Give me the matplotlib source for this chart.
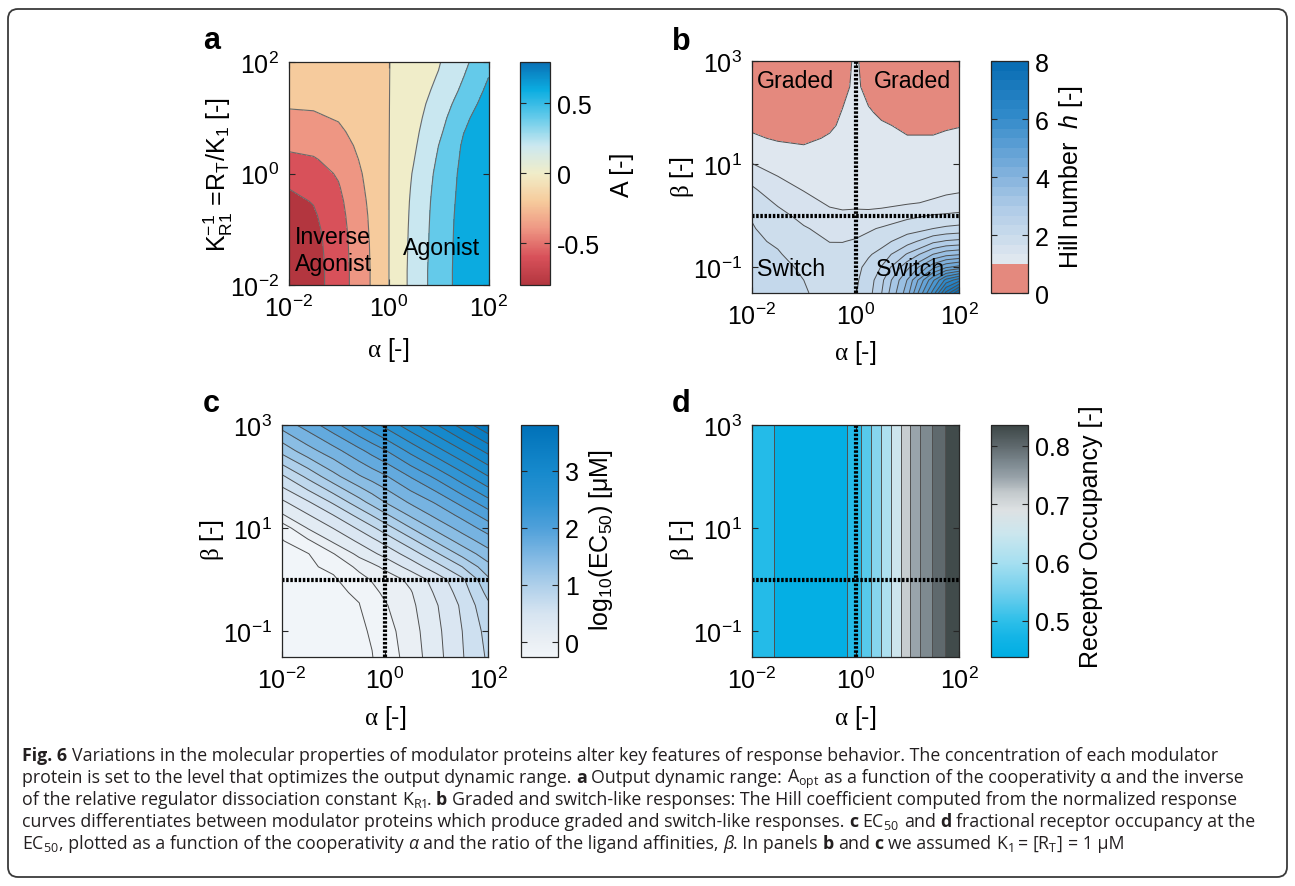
import numpy as np
import matplotlib
matplotlib.use("Agg")
import matplotlib.pyplot as plt
from matplotlib.colors import LinearSegmentedColormap, ListedColormap, Normalize
from matplotlib.ticker import FixedLocator, FuncFormatter
from matplotlib.patches import FancyBboxPatch
from matplotlib.transforms import IdentityTransform
import matplotlib.cm as cm

plt.rcParams['font.family'] = ['Liberation Sans', 'DejaVu Sans']
plt.rcParams['mathtext.fontset'] = 'custom'
plt.rcParams['mathtext.rm'] = 'Liberation Serif'
plt.rcParams['mathtext.it'] = 'Liberation Sans:italic'
plt.rcParams['mathtext.bf'] = 'Liberation Sans:bold'
plt.rcParams['mathtext.sf'] = 'Liberation Sans'
plt.rcParams['axes.unicode_minus'] = False
plt.rcParams['contour.negative_linestyle'] = 'solid'

# ======================= DATA =======================
# ---- panel a : output dynamic range A(alpha, K_R1^-1) ----
a_log_alpha = [-2.0, -1.5, -1.0, -0.5, 0.0, 0.5, 1.0, 1.5, 2.0]
a_log_K = [-2.0, -1.75, -1.5, -1.25, -1.0, -0.75, -0.5, -0.25, 0.0,
           0.25, 0.5, 0.75, 1.0, 1.25, 1.5, 1.75, 2.0]
a_A = [
    [-0.80, -0.68, -0.50, -0.27, -0.005, 0.27, 0.50, 0.68, 0.80],
    [-0.795, -0.68, -0.50, -0.27, -0.005, 0.27, 0.50, 0.68, 0.80],
    [-0.79, -0.675, -0.495, -0.265, -0.005, 0.265, 0.495, 0.68, 0.795],
    [-0.775, -0.665, -0.49, -0.26, -0.005, 0.26, 0.49, 0.678, 0.79],
    [-0.75, -0.65, -0.48, -0.25, -0.005, 0.255, 0.487, 0.675, 0.785],
    [-0.71, -0.625, -0.465, -0.24, -0.005, 0.248, 0.482, 0.67, 0.78],
    [-0.65, -0.59, -0.445, -0.225, -0.005, 0.24, 0.475, 0.662, 0.775],
    [-0.595, -0.54, -0.415, -0.207, -0.005, 0.228, 0.463, 0.656, 0.768],
    [-0.53, -0.48, -0.38, -0.19, -0.005, 0.214, 0.449, 0.65, 0.76],
    [-0.44, -0.415, -0.34, -0.165, -0.005, 0.192, 0.425, 0.638, 0.75],
    [-0.37, -0.35, -0.29, -0.14, -0.005, 0.17, 0.40, 0.625, 0.74],
    [-0.30, -0.29, -0.235, -0.115, -0.005, 0.152, 0.36, 0.595, 0.725],
    [-0.235, -0.225, -0.185, -0.095, -0.005, 0.135, 0.32, 0.56, 0.71],
    [-0.18, -0.175, -0.145, -0.075, -0.005, 0.122, 0.28, 0.50, 0.68],
    [-0.14, -0.135, -0.11, -0.06, -0.005, 0.11, 0.24, 0.44, 0.64],
    [-0.11, -0.10, -0.085, -0.045, -0.005, 0.10, 0.21, 0.395, 0.595],
    [-0.08, -0.075, -0.065, -0.035, -0.005, 0.09, 0.185, 0.355, 0.55],
]
a_levels = [-0.6, -0.4, -0.2, 0.0, 0.2, 0.4, 0.6]
a_range = [-0.80, 0.793]
a_cbar_ticks = [-0.5, 0.0, 0.5]
a_cbar_ticklabels = ['-0.5', '0', '0.5']

# ---- panel b : Hill number h(alpha, beta) ----
b_log_alpha = [-2.0, -1.5, -1.0, -0.5, -0.25, 0.0, 0.25, 0.5, 1.0, 1.5, 1.75, 2.0]
b_log_beta = [-1.5, -1.25, -1.0, -0.75, -0.5, -0.25, 0.0, 0.25, 0.5,
              0.75, 1.0, 1.25, 1.5, 1.75, 2.0, 2.5, 3.0]
b_h = [
    [2.15, 2.12, 2.02, 1.92, 1.90, 1.98, 2.20, 2.65, 3.85, 5.80, 7.10, 8.00],
    [2.15, 2.10, 2.00, 1.89, 1.87, 1.95, 2.15, 2.57, 3.68, 5.27, 6.11, 6.52],
    [2.12, 2.07, 1.96, 1.83, 1.82, 1.90, 2.10, 2.35, 3.24, 4.24, 4.62, 4.79],
    [2.08, 2.02, 1.90, 1.76, 1.75, 1.80, 1.96, 2.11, 2.70, 3.34, 3.55, 3.63],
    [2.04, 1.97, 1.80, 1.66, 1.66, 1.69, 1.78, 1.88, 2.19, 2.59, 2.71, 2.76],
    [2.02, 1.88, 1.70, 1.55, 1.55, 1.58, 1.62, 1.70, 1.85, 2.00, 2.06, 2.10],
    [1.98, 1.78, 1.56, 1.42, 1.40, 1.42, 1.40, 1.42, 1.59, 1.69, 1.71, 1.73],
    [1.88, 1.62, 1.45, 1.29, 1.25, 1.25, 1.26, 1.27, 1.30, 1.37, 1.43, 1.48],
    [1.72, 1.47, 1.32, 1.19, 1.17, 1.17, 1.18, 1.18, 1.20, 1.25, 1.27, 1.29],
    [1.55, 1.34, 1.20, 1.13, 1.12, 1.12, 1.13, 1.12, 1.13, 1.16, 1.18, 1.20],
    [1.34, 1.22, 1.12, 1.09, 1.09, 1.09, 1.10, 1.08, 1.09, 1.11, 1.12, 1.14],
    [1.20, 1.10, 1.04, 1.06, 1.07, 1.07, 1.08, 1.06, 1.06, 1.07, 1.08, 1.10],
    [1.04, 0.97, 0.96, 1.02, 1.05, 1.06, 1.06, 1.04, 1.01, 1.01, 1.03, 1.05],
    [0.95, 0.92, 0.92, 0.97, 1.03, 1.05, 1.04, 1.02, 0.97, 0.97, 0.98, 0.99],
    [0.90, 0.88, 0.88, 0.93, 1.01, 1.05, 1.02, 0.97, 0.93, 0.93, 0.93, 0.92],
    [0.85, 0.84, 0.84, 0.88, 0.95, 1.04, 0.94, 0.90, 0.88, 0.88, 0.88, 0.86],
    [0.82, 0.81, 0.81, 0.84, 0.90, 1.04, 0.88, 0.87, 0.85, 0.85, 0.85, 0.83],
]
b_range = [0.0, 8.0]
b_nbands = 24
b_cbar_ticks = [0, 2, 4, 6, 8]

# ---- panel c : log10(EC50) ----
c_log_alpha = [-2.0, -1.5, -1.0, -0.5, -0.25, 0.0, 0.5, 1.0, 1.5, 2.0]
c_log_beta = [-1.5, -1.0, -0.5, -0.25, 0.0, 0.25, 0.5, 0.75, 1.0, 1.25, 1.5, 2.0, 2.5, 3.0]
c_ec50 = [
    [-0.24, -0.24, -0.238, -0.23, -0.205, -0.12, 0.09, 0.33, 0.585, 0.83],
    [-0.24, -0.24, -0.237, -0.225, -0.185, -0.085, 0.115, 0.35, 0.60, 0.87],
    [-0.24, -0.238, -0.233, -0.205, -0.11, -0.02, 0.155, 0.385, 0.635, 0.96],
    [-0.238, -0.235, -0.228, -0.18, -0.052, 0.036, 0.185, 0.435, 0.69, 1.06],
    [-0.235, -0.228, -0.225, -0.074, 0.014, 0.086, 0.248, 0.49, 0.76, 1.16],
    [-0.232, -0.228, -0.16, 0.052, 0.144, 0.247, 0.479, 0.723, 1.0, 1.33],
    [-0.228, -0.21, -0.008, 0.257, 0.357, 0.462, 0.695, 0.97, 1.262, 1.517],
    [-0.215, -0.038, 0.234, 0.435, 0.544, 0.664, 0.935, 1.229, 1.488, 1.70],
    [-0.12, 0.21, 0.406, 0.632, 0.761, 0.90, 1.195, 1.458, 1.677, 1.887],
    [0.179, 0.383, 0.60, 0.865, 1.008, 1.158, 1.429, 1.653, 1.857, 2.096],
    [0.359, 0.573, 0.83, 1.121, 1.264, 1.40, 1.63, 1.826, 2.068, 2.32],
    [0.764, 1.047, 1.333, 1.579, 1.678, 1.773, 2.012, 2.25, 2.517, 2.79],
    [1.267, 1.52, 1.727, 1.952, 2.07, 2.184, 2.457, 2.72, 2.986, 3.26],
    [1.68, 1.89, 2.13, 2.395, 2.52, 2.65, 2.92, 3.19, 3.48, 3.77],
]
c_levels = [-0.2, 0.0, 0.2, 0.4, 0.6, 0.8, 1.0, 1.2, 1.4, 1.6, 1.8, 2.0,
            2.2, 2.4, 2.6, 2.8, 3.0, 3.2, 3.4, 3.6]
c_range = [-0.26, 3.80]
c_cbar_ticks = [0, 1, 2, 3]

# ---- panel d : receptor occupancy at EC50 (bands along alpha) ----
d_log_alpha_edges = [-2.0, -1.58, -0.17, 0.11, 0.30, 0.50, 0.69, 0.875,
                     1.06, 1.25, 1.47, 1.73, 2.0]
d_occupancy = [0.49, 0.445, 0.49, 0.53, 0.57, 0.61, 0.655, 0.715,
               0.745, 0.77, 0.80, 0.83]
d_log_beta_range = [-1.5, 3.0]
d_range = [0.438, 0.836]
d_cbar_ticks = [0.5, 0.6, 0.7, 0.8]

# ======================= STYLE =======================
W, H = 1295, 887
fig = plt.figure(figsize=(W / 100, H / 100), dpi=100)
FS = 18
LINEC = '#505050'
SPINEC = '#262626'

cmap_a = LinearSegmentedColormap.from_list('a', [
    (0.0, '#b3363f'), (0.125, '#d8515a'), (0.25, '#ee9683'), (0.375, '#f6cb9c'),
    (0.5, '#f1edc8'), (0.625, '#cbe8f0'), (0.75, '#66cbea'), (0.875, '#0badE1'),
    (1.0, '#0a70b5')])
blues_b = LinearSegmentedColormap.from_list('bb', [
    (0.0, '#dfe7ef'), (0.25, '#b2cde8'), (0.5, '#72a9d9'), (0.75, '#2f89c9'), (1.0, '#0a6eb4')])
cmap_b = ListedColormap(['#e4897e'] * 3 + [blues_b(i / 20) for i in range(21)])
c_lo, c_hi = c_range
def _cn(v):
    return (v - c_lo) / (c_hi - c_lo)
cmap_c = LinearSegmentedColormap.from_list('c', [
    (0.0, '#f1f5f9'), (_cn(0.0), '#eaeff4'), (_cn(0.5), '#d6e4f1'), (_cn(1.0), '#aecfea'),
    (_cn(1.5), '#80b8e3'), (_cn(2.0), '#4fa0da'), (_cn(2.5), '#2a92d2'), (_cn(3.0), '#1689cc'),
    (1.0, '#0071b8')])
d_lo, d_hi = d_range
def _dn(v):
    return (v - d_lo) / (d_hi - d_lo)
cmap_d = LinearSegmentedColormap.from_list('d', [
    (0.0, '#00aee3'), (_dn(0.47), '#12b4e6'), (_dn(0.50), '#2ebfe9'), (_dn(0.55), '#72cfed'),
    (_dn(0.60), '#a6dff0'), (_dn(0.65), '#cbe6ee'), (_dn(0.69), '#dde1e3'), (_dn(0.72), '#c4cacd'),
    (_dn(0.745), '#9aa4ab'), (_dn(0.77), '#7e8a91'), (_dn(0.80), '#5f696d'), (1.0, '#3c4646')])


def add_ax(x0, y0, x1, y1):
    return fig.add_axes([x0 / W, 1 - y1 / H, (x1 - x0) / W, (y1 - y0) / H])


def ftext(x, y, s, **kw):
    return fig.text(x / W, 1 - y / H, s, **kw)


def pow10(v, pos):
    return r"$\mathregular{10^{%d}}$" % int(round(v))


def style_ax(ax, xt, yt, xlim, ylim):
    ax.set_xlim(*xlim)
    ax.set_ylim(*ylim)
    ax.xaxis.set_major_locator(FixedLocator(xt))
    ax.yaxis.set_major_locator(FixedLocator(yt))
    ax.xaxis.set_major_formatter(FuncFormatter(pow10))
    ax.yaxis.set_major_formatter(FuncFormatter(pow10))
    ax.tick_params(direction='in', length=4, width=0.8, top=True, right=True,
                   labelsize=FS, pad=7, color=SPINEC)
    for sp in ax.spines.values():
        sp.set_color(SPINEC)
        sp.set_linewidth(0.9)
        sp.set_zorder(5)


def style_cbar(cb, ticks, labels=None):
    cb.set_ticks(ticks)
    if labels is not None:
        cb.set_ticklabels(labels)
    cb.ax.minorticks_off()
    cb.ax.tick_params(axis='y', direction='in', left=True, right=True, length=4,
                      width=0.8, labelsize=FS, pad=5, color=SPINEC)
    cb.outline.set_edgecolor(SPINEC)
    cb.outline.set_linewidth(0.9)


def crosshair(ax):
    ax.axvline(0, color='black', lw=3.0, linestyle=(0, (0.6, 0.4)), zorder=4)
    ax.axhline(0, color='black', lw=3.0, linestyle=(0, (0.6, 0.4)), zorder=4)


# ======================= PANEL a =======================
ax = add_ax(288.5, 63, 488.5, 286)
A = np.array(a_A)
norm_a = Normalize(*a_range)
fill_lv = [-0.85] + a_levels + [0.85]
fill_cols = [cmap_a(norm_a(max(l, a_range[0]))) for l in fill_lv[:-1]]
ax.contourf(a_log_alpha, a_log_K, A, levels=fill_lv, colors=fill_cols)
ax.contour(a_log_alpha, a_log_K, A, levels=a_levels, colors='#6a6a6a', linewidths=0.8,
           linestyles='solid')
style_ax(ax, [-2, 0, 2], [-2, 0, 2], (-2, 2), (-2, 2))
cax = add_ax(520, 63, 550, 286)
cb = fig.colorbar(cm.ScalarMappable(norm=norm_a, cmap=cmap_a), cax=cax)
style_cbar(cb, a_cbar_ticks, a_cbar_ticklabels)

ftext(295, 238, 'Inverse', fontsize=16.7, va='center', ha='left')
ftext(295, 265, 'Agonist', fontsize=16.7, va='center', ha='left')
ftext(442, 249, 'Agonist', fontsize=16.7, va='center', ha='center')
ftext(388, 350, r"$\mathrm{\alpha}$ [-]", fontsize=FS, ha='center', va='center')
ftext(218, 175, r"K$^{\mathregular{-1}}_{\mathregular{R1}}$ =R$_{\mathregular{T}}$/K$_{\mathregular{1}}$ [-]",
      fontsize=FS, ha='center', va='center', rotation=90)
ftext(622, 175, 'A [-]', fontsize=FS, ha='center', va='center', rotation=90)

# ======================= PANEL b =======================
ax = add_ax(752, 62, 959, 294)
Hh = np.array(b_h)
norm_b = Normalize(*b_range)
b_edges = np.linspace(b_range[0], b_range[1], b_nbands + 1)
ax.contourf(b_log_alpha, b_log_beta, Hh, levels=b_edges, cmap=cmap_b, norm=norm_b)
ax.contour(b_log_alpha, b_log_beta, Hh, levels=b_edges[1:-1], colors=LINEC, linewidths=0.7,
           linestyles='solid')
crosshair(ax)
style_ax(ax, [-2, 0, 2], [-1, 1, 3], (-2, 2), (-1.5, 3))
cax = add_ax(991, 62, 1028, 294)
cb = fig.colorbar(cm.ScalarMappable(norm=norm_b, cmap=cmap_b), cax=cax)
style_cbar(cb, b_cbar_ticks)

ftext(795, 82, 'Graded', fontsize=16.7, va='center', ha='center')
ftext(912, 82, 'Graded', fontsize=16.7, va='center', ha='center')
ftext(791, 269, 'Switch', fontsize=16.7, va='center', ha='center')
ftext(910, 269, 'Switch', fontsize=16.7, va='center', ha='center')
ftext(855, 353, r"$\mathrm{\alpha}$ [-]", fontsize=FS, ha='center', va='center')
ftext(682, 177, r"$\mathrm{\beta}$ [-]", fontsize=FS, ha='center', va='center', rotation=90)
ftext(1071, 177, r"Hill number  $\mathit{h}$ [-]", fontsize=FS, ha='center', va='center', rotation=90)

# ======================= PANEL c =======================
ax = add_ax(282, 426, 488, 658)
C = np.array(c_ec50)
norm_c = Normalize(*c_range)
fill_lv = [-0.3] + c_levels + [3.9]
fill_cols = [cmap_c(norm_c(max(l, c_range[0]))) for l in fill_lv[:-1]]
ax.contourf(c_log_alpha, c_log_beta, C, levels=fill_lv, colors=fill_cols)
ax.contour(c_log_alpha, c_log_beta, C, levels=c_levels, colors=LINEC, linewidths=0.7,
           linestyles='solid')
crosshair(ax)
style_ax(ax, [-2, 0, 2], [-1, 1, 3], (-2, 2), (-1.5, 3))
cax = add_ax(521, 426, 558, 658)
cb = fig.colorbar(cm.ScalarMappable(norm=norm_c, cmap=cmap_c), cax=cax)
style_cbar(cb, c_cbar_ticks)

ftext(385, 718, r"$\mathrm{\alpha}$ [-]", fontsize=FS, ha='center', va='center')
ftext(212, 540, r"$\mathrm{\beta}$ [-]", fontsize=FS, ha='center', va='center', rotation=90)
ftext(601, 540, r"log$_{\mathregular{10}}$(EC$_{\mathregular{50}}$) [μM]", fontsize=FS,
      ha='center', va='center', rotation=90)

# ======================= PANEL d =======================
ax = add_ax(752, 426, 959, 658)
norm_d = Normalize(*d_range)
ax.pcolormesh(d_log_alpha_edges, d_log_beta_range, np.array([d_occupancy]),
              cmap=cmap_d, norm=norm_d, shading='flat')
ax.vlines(d_log_alpha_edges[1:-1], d_log_beta_range[0], d_log_beta_range[1],
          colors=LINEC, linewidths=0.7)
crosshair(ax)
style_ax(ax, [-2, 0, 2], [-1, 1, 3], (-2, 2), (-1.5, 3))
cax = add_ax(991, 426, 1028, 658)
cb = fig.colorbar(cm.ScalarMappable(norm=norm_d, cmap=cmap_d), cax=cax)
style_cbar(cb, d_cbar_ticks, ['0.5', '0.6', '0.7', '0.8'])

ftext(855, 718, r"$\mathrm{\alpha}$ [-]", fontsize=FS, ha='center', va='center')
ftext(682, 540, r"$\mathrm{\beta}$ [-]", fontsize=FS, ha='center', va='center', rotation=90)
ftext(1091, 537, 'Receptor Occupancy [-]', fontsize=FS, ha='center', va='center', rotation=90)

# panel letters
for lx, ly, lt in [(203, 49, 'a'), (672, 50, 'b'), (203, 412, 'c'), (672, 412, 'd')]:
    ftext(lx, ly, lt, fontsize=22, fontweight='bold', ha='left', va='baseline')

# ======================= CAPTION =======================
CAPF = 'Open Sans'
renderer = fig.canvas.get_renderer()


def text_w(s, size, **kw):
    t = fig.text(0, 0, s, fontfamily=CAPF, fontsize=size, **kw)
    w = t.get_window_extent(renderer).width
    t.remove()
    return w


def seg_advance(core, size, **kw):
    if '$' in core:
        # mathtext run: its layout box is already tight
        return text_w(core, size, **kw)
    # plain run: advance width measured between two guard glyphs
    return text_w('x' + core + 'x', size, **kw) - text_w('xx', size, **kw)


def rich(x_px, y_px, segs, size, draw=True):
    sp = text_w('a a', size) - text_w('aa', size)
    x = x_px
    for txt, st in segs:
        kw = {}
        if 'b' in st:
            kw['fontweight'] = 'bold'
        if 'i' in st:
            kw['fontstyle'] = 'italic'
        lead = len(txt) - len(txt.lstrip(' '))
        trail = len(txt) - len(txt.rstrip(' '))
        core = txt.strip(' ')
        x += lead * sp
        if draw:
            fig.text(x / W, 1 - y_px / H, core, fontfamily=CAPF, fontsize=size,
                     ha='left', va='baseline', color='#231f20', **kw)
        x += seg_advance(core, size, **kw) + trail * sp
    return x - x_px


cap_lines = [
    [("Fig. 6", "b"), (" Variations in the molecular properties of modulator proteins alter key features of response behavior. The concentration of each modulator", "")],
    [("protein is set to the level that optimizes the output dynamic range. ", ""), ("a", "b"),
     (" Output dynamic range:", ""), (" A$_\\mathregular{opt}$", ""),
     (" as a function of the cooperativity α and the inverse", "")],
    [("of the relative regulator dissociation constant", ""), (" K$_\\mathregular{R1}$", ""), (".", ""),
     (" b", "b"),
     (" Graded and switch-like responses: The Hill coefficient computed from the normalized response", "")],
    [("curves differentiates between modulator proteins which produce graded and switch-like responses.", ""),
     (" c", "b"), (" EC$_\\mathregular{50}$", ""), (" and", ""), (" d", "b"),
     (" fractional receptor occupancy at the", "")],
    [("EC$_\\mathregular{50}$", ""), (", plotted as a function of the cooperativity", ""), (" α", "i"),
     (" and the ratio of the ligand affinities,", ""), (" β", "i"), (". In panels", ""), (" b", "b"),
     (" and", ""), (" c", "b"), (" we assumed", ""), (" K$_\\mathregular{1}$", ""), (" =", ""),
     (" [R$_\\mathregular{T}$]", ""), (" = 1 μM", "")],
]
w0 = rich(22, 761, cap_lines[0], 12, draw=False)
cap_size = 12 * (1190.0 / w0)
for i, segs in enumerate(cap_lines):
    rich(22, 761 + 22 * i, segs, cap_size)

# outer rounded frame
frame = FancyBboxPatch((8, H - 878), 1279, 868, boxstyle="round,pad=0,rounding_size=10",
                       transform=IdentityTransform(), fill=False, ec='#3a3a3a', lw=1.3)
fig.add_artist(frame)

fig.savefig('out.png', dpi=100)
